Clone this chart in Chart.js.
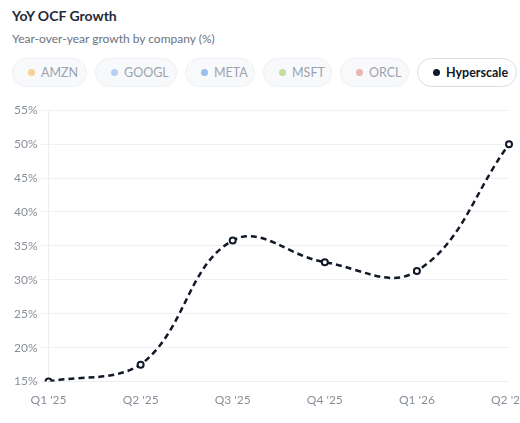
<!DOCTYPE html>
<html>
<head>
<meta charset="utf-8">
<script src="https://cdn.jsdelivr.net/npm/chart.js@4.4.1/dist/chart.umd.min.js"></script>
<style>
  html, body { margin: 0; padding: 0; background: #fff; overflow: hidden; }
  body { width: 520px; height: 423px; position: relative; font-family: Lato, "Noto Sans", sans-serif; }
  .title { position: absolute; left: 12px; top: 7px; font-size: 14px; font-weight: 700; color: #1f2937; }
  .sub { position: absolute; left: 12px; top: 31px; font-size: 12px; color: #6b7280; }
  .legend { position: absolute; left: 12px; top: 58px; display: flex; gap: 8px; }
  .pill { height: 29px; box-sizing: border-box; border-radius: 15px; border: 1px solid #eef0f3; background: #f8f9fb;
          display: flex; align-items: center; padding: 0 0 0 15px; font-size: 12.5px; color: #9ca3af; white-space: nowrap; }
  .pill .dot { width: 7px; height: 7px; border-radius: 50%; margin-right: 6px; opacity: 0.8; flex: none; }
  .pill.on { background: #fff; border-color: #d9dde3; color: #111827; font-weight: 700; }
  .pill.on .dot { opacity: 1; }
  .wrap { position: absolute; left: 0; top: 100px; width: 530px; height: 310px; }
</style>
</head>
<body>
<div class="title">YoY OCF Growth</div>
<div class="sub">Year-over-year growth by company (%)</div>
<div class="legend" id="legend"></div>
<div class="wrap"><canvas id="chart"></canvas></div>
<script>
// 四半期ラベル
const quarters = ["Q1 '25", "Q2 '25", "Q3 '25", "Q4 '25", "Q1 '26", "Q2 '26"];

// 凡例（Hyperscale 以外は非表示状態）
const companies = ["AMZN", "GOOGL", "META", "MSFT", "ORCL", "Hyperscale"];
const companyColors = ["#f5c87c", "#a8c7ef", "#86aee6", "#b5d68a", "#e6a5a0", "#111827"];
const pillWidths = [75, 82, 70, 69, 69, 100];
const activeCompany = "Hyperscale";

// Hyperscale の前年比成長率 (%)
const hyperscaleGrowth = [15.0, 17.5, 35.8, 32.6, 31.3, 50.0];

// y 軸目盛り
const yMin = 15;
const yMax = 55;
const yStep = 5;

// ---- 凡例 ----
const legend = document.getElementById("legend");
companies.forEach((name, i) => {
  const pill = document.createElement("div");
  pill.className = "pill" + (name === activeCompany ? " on" : "");
  pill.style.width = pillWidths[i] + "px";
  pill.innerHTML = `<span class="dot" style="background:${companyColors[i]}"></span>${name}`;
  legend.appendChild(pill);
});

// ---- 折れ線 ----
new Chart(document.getElementById("chart"), {
  type: "line",
  data: {
    labels: quarters,
    datasets: [
      {
        label: activeCompany,
        data: hyperscaleGrowth,
        borderColor: "#111827",
        borderWidth: 2.5,
        borderDash: [6, 4],
        tension: 0.4,
        pointRadius: 3,
        pointBackgroundColor: "#fff",
        pointBorderColor: "#111827",
        pointBorderWidth: 2,
        fill: false,
      },
    ],
  },
  options: {
    responsive: true,
    maintainAspectRatio: false,
    animation: false,
    layout: { padding: { left: 11, top: 4, right: 0, bottom: 0 } },
    plugins: { legend: { display: false }, tooltip: { enabled: false } },
    scales: {
      x: {
        grid: { display: false },
        border: { color: "#eceef1" },
        ticks: { color: "#8a9099", font: { size: 12, family: "Lato" }, maxRotation: 0 },
      },
      y: {
        min: yMin,
        max: yMax,
        grid: { color: "#f0f1f3" },
        border: { display: true, color: "#eceef1" },
        ticks: {
          stepSize: yStep,
          color: "#8a9099",
          font: { size: 12, family: "Lato" },
          callback: (v) => v + "%",
        },
      },
    },
  },
});
</script>
</body>
</html>
